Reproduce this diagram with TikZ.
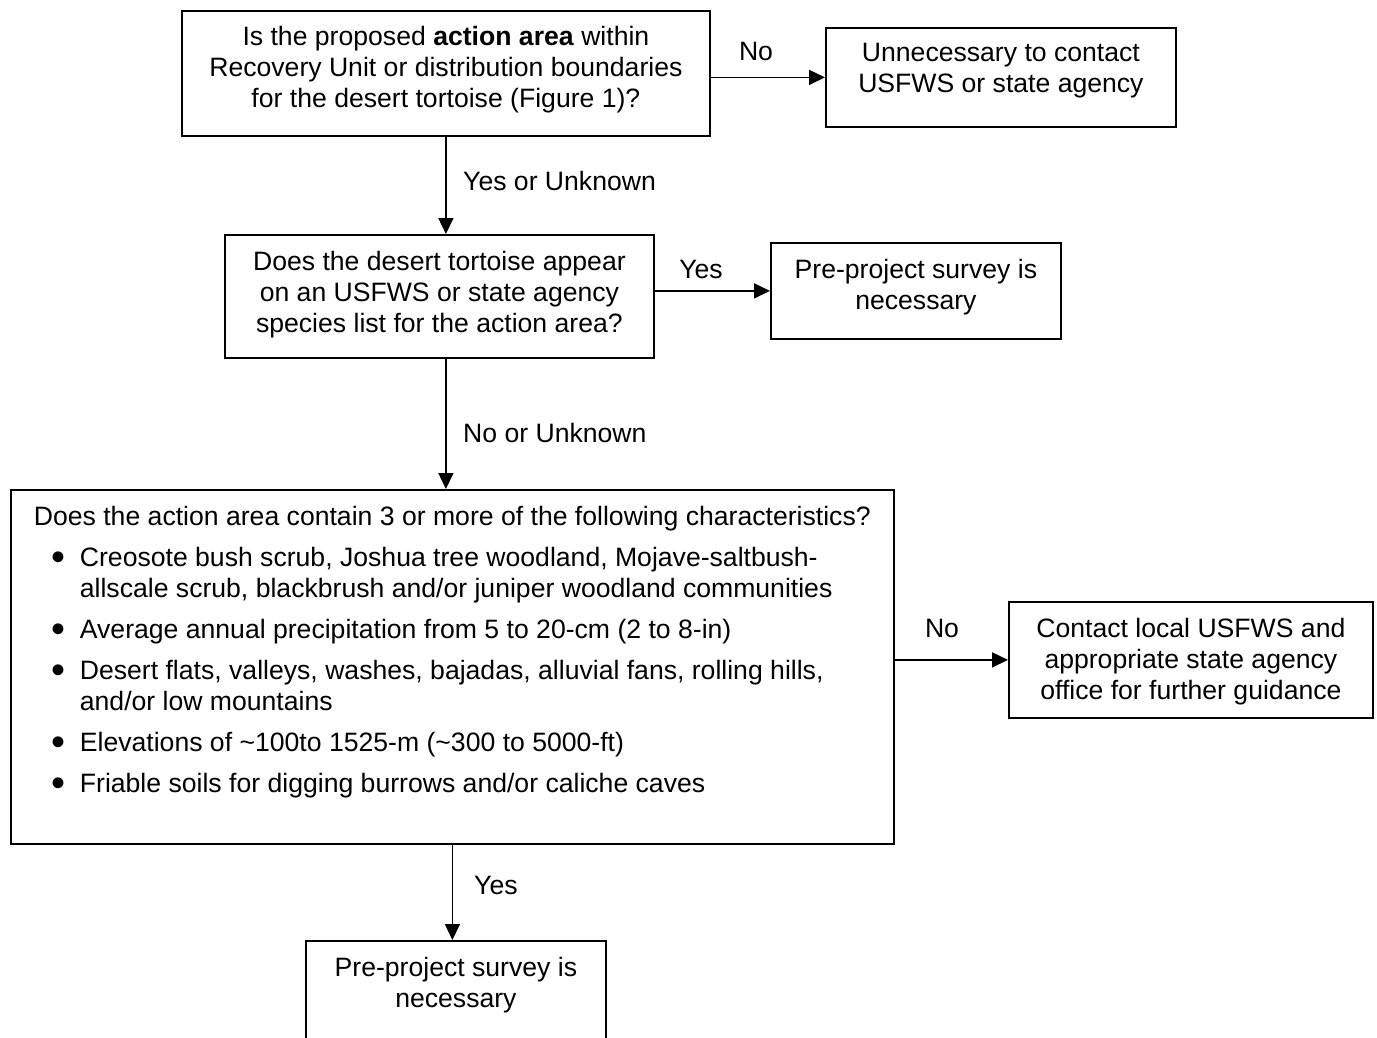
\documentclass[tikz,border=0pt]{standalone}
\usepackage{fontspec}
\usepackage{graphicx}
\setmainfont{Liberation Sans}
\usetikzlibrary{arrows.meta}
\newcommand\fsz{\fontsize{26.6}{30.8}\selectfont}
\newcommand\bxt[4]{\parbox[c][#1pt][t]{#2pt}{\centering\fsz\vspace*{#3pt}\strut #4\par}}
\newcommand\bul{\noindent\hangindent=46pt\hangafter=1\hspace*{18pt}\makebox[28pt][l]{\raisebox{-4.5pt}{\scalebox{1.5}{•}}}}
\tikzset{
  box/.style={draw, line width=1.8pt, inner sep=0pt, anchor=north west},
  arr/.style={line width=1.6pt, -{Triangle[length=16pt,width=15pt]}},
  lbl/.style={inner sep=0pt, font=\fsz},
}
\begin{document}
\begin{tikzpicture}[x=1pt,y=-1pt]
\useasboundingbox (0,0) rectangle (1377,1038);
\clip (0,0) rectangle (1377,1038);
\fill[white] (0,0) rectangle (1377,1038);

\node[box] (q1) at (181,10) {\bxt{125}{528}{13.4}{Is the proposed \textbf{action area} within\\Recovery Unit or distribution boundaries\\for the desert tortoise (Figure 1)?}};
\node[box] (r1) at (825,27) {\bxt{99}{350}{12.4}{Unnecessary to contact\\USFWS or state agency}};
\node[box] (q2) at (224,234) {\bxt{123}{429}{14.4}{Does the desert tortoise appear\\on an USFWS or state agency\\species list for the action area?}};
\node[box] (r2) at (770,242) {\bxt{96}{290}{14.4}{Pre-project survey is\\necessary}};
\node[box] (q3) at (10,489) {\parbox[c][354pt][t]{883pt}{\raggedright\fsz\leftskip=23pt\parskip=10.3pt\parindent=0pt
\vspace*{3.5pt}\strut Does the action area contain 3 or more of the following characteristics?\par
\bul Creosote bush scrub, Joshua tree woodland, Mojave-saltbush-\newline allscale scrub, blackbrush and/or juniper woodland communities\par
\bul Average annual precipitation from 5 to 20-cm (2 to 8-in)\par
\bul Desert flats, valleys, washes, bajadas, alluvial fans, rolling hills,\newline and/or low mountains\par
\bul Elevations of \textasciitilde100to 1525-m (\textasciitilde300 to 5000-ft)\par
\bul Friable soils for digging burrows and/or caliche caves\par}};
\node[box] (r3) at (1008,601) {\bxt{116}{364}{14.4}{Contact local USFWS and\\appropriate state agency\\office for further guidance}};
\node[box] (r4) at (305,940) {\bxt{130}{300}{14.4}{Pre-project survey is\\necessary}};

\draw[arr] (q1.east |- r1.west) -- (r1.west);
\draw[arr] (q1.south) -- (q1.south |- q2.north);
\draw[arr] (q2.east |- r2.west) -- (r2.west);
\draw[arr] (q2.south -| q1.south) -- (q3.north -| q1.south);
\draw[arr] (q3.east |- r3.west) -- (r3.west);
\draw[arr] (q3.south) -- (q3.south |- r4.north);

\node[lbl, anchor=base] (l1) at (756,61) {No};
\node[lbl, anchor=base west] (l2) at (463,191) {Yes or Unknown};
\node[lbl, anchor=base] (l3) at (701,278) {Yes};
\node[lbl, anchor=base west] (l4) at (463,442) {No or Unknown};
\node[lbl, anchor=base] (l5) at (942,637) {No};
\node[lbl, anchor=base west] (l6) at (474,894) {Yes};
\end{tikzpicture}
\end{document}
